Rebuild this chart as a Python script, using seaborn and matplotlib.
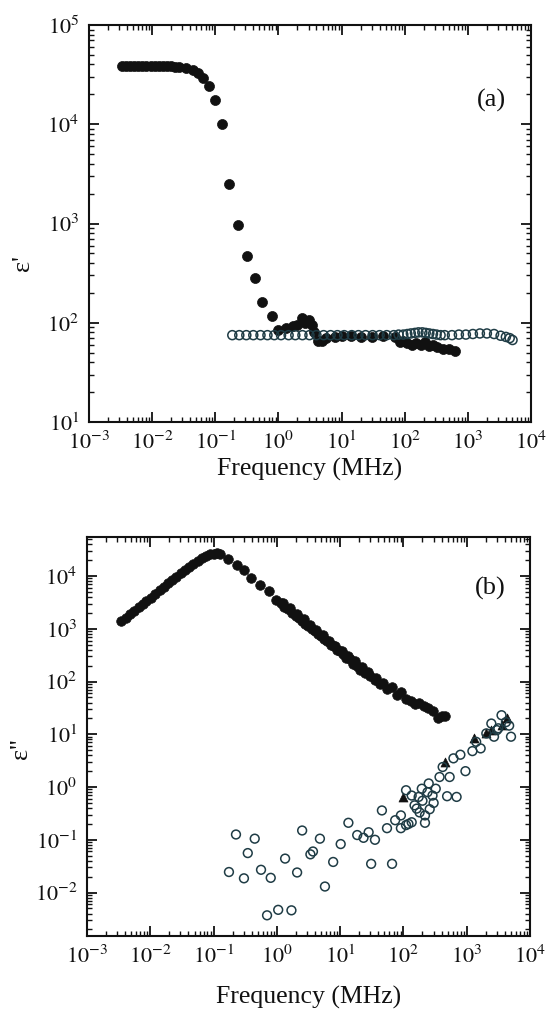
import numpy as np
import pandas as pd
import matplotlib
matplotlib.use("Agg")
import matplotlib.pyplot as plt
import matplotlib.ticker as mticker
import seaborn as sns

# ---------------- data (a) : real permittivity ----------------
a_filled_f = [0.00331, 0.00385, 0.00447, 0.00519, 0.00603, 0.0070, 0.00813, 0.00944,
              0.01096, 0.01274, 0.01479, 0.01718, 0.01995, 0.02317, 0.0263, 0.034,
              0.044, 0.053, 0.065, 0.079, 0.100, 0.129, 0.166, 0.227, 0.32, 0.42,
              0.55, 0.78, 0.98, 1.32, 1.7, 2.0, 2.35, 2.6, 3.0, 3.4, 3.7, 4.2, 4.9,
              5.6, 7.8, 10, 14, 20, 30, 45, 70, 85, 95, 110, 130, 150, 180, 210,
              240, 280, 330, 400, 500, 620]
a_filled_e = [39000, 39000, 39000, 39000, 39000, 39000, 39000, 39000,
              39000, 39000, 39000, 39000, 38500, 38000, 37500, 36500,
              35000, 32500, 29500, 24500, 17600, 10000, 2500, 955, 475, 282,
              162, 118, 85, 89, 92, 95, 112, 100, 107, 95, 80, 65, 66,
              70, 72, 74, 73, 72, 72, 73, 72, 64, 66, 62, 60, 62, 60, 64,
              58, 60, 57, 55, 54, 52]

a_open_f = [0.186, 0.24, 0.31, 0.40, 0.52, 0.67, 0.86, 1.1, 1.45, 1.85, 2.4, 3.1,
            4.0, 5.2, 6.7, 8.6, 11, 14.5, 18.5, 24, 31, 40, 52, 67, 80, 95, 110,
            125, 145, 165, 190, 215, 245, 280, 320, 370, 430, 560, 720, 930,
            1200, 1550, 2000, 2600, 3300, 4000, 4600, 5100]
a_open_e = [75, 75, 75, 75, 75, 75, 75, 75, 75, 75, 75, 75,
            75, 75, 75, 75, 75, 75, 75, 75, 75, 75, 75, 75, 76, 76, 77,
            78, 79, 80, 80, 79, 78, 77, 76, 75, 75, 75, 76, 76,
            77, 78, 78, 77, 74, 72, 70, 67]

# ---------------- data (b) : imaginary permittivity ----------------
b_filled_f = [0.00347, 0.00407, 0.00479, 0.00562, 0.0066, 0.00759, 0.00871, 0.01023,
              0.0120, 0.01413, 0.01622, 0.01905, 0.02239, 0.0257, 0.0302, 0.0355,
              0.0407, 0.0479, 0.0562, 0.0646, 0.0759, 0.0871, 0.100, 0.112, 0.126,
              0.170, 0.234, 0.302, 0.389, 0.537, 0.741, 0.955, 1.15, 1.25, 1.32,
              1.51, 1.62, 1.74, 2.0, 2.1, 2.24, 2.51, 2.65, 2.82, 3.16, 3.35, 3.55,
              3.98, 4.2, 4.47, 5.01, 5.3, 5.62, 6.31, 6.7, 7.08, 7.94, 8.4, 8.91,
              10.0, 10.6, 11.2, 12.6, 13.3, 14.1, 15.8, 17, 18.2, 20.9, 22, 25.1,
              28, 29.5, 35.5, 37, 42.7, 48, 55.0, 65, 79.4, 90, 110, 132, 151,
              178, 209, 245, 288, 347, 407, 447]
b_filled_e = [1380, 1620, 1905, 2190, 2570, 2950, 3310, 3890,
              4570, 5370, 6170, 7240, 8510, 9550, 11200, 13200,
              14800, 17000, 19500, 21900, 24000, 25700, 26600, 26900, 26300,
              21400, 16200, 12900, 9120, 6760, 5130, 3550, 3020, 3100, 2630,
              2340, 2450, 2000, 1780, 1950, 1580, 1380, 1550, 1260, 1120, 1200, 977,
              891, 930, 794, 724, 760, 631, 589, 600, 501, 479, 470, 398,
              372, 385, 331, 275, 310, 263, 214, 240, 200, 166, 185, 145,
              150, 126, 105, 118, 91, 95, 72, 78, 55, 62, 46, 42, 38,
              40, 34, 32, 28, 20, 22, 22]

b_open_f = [0.175, 0.226, 0.302, 0.347, 0.447, 0.562, 0.80, 0.70, 1.05, 1.35, 1.70,
            2.09, 2.51, 3.39, 3.72, 4.79, 5.75, 7.76, 10.2, 13.5, 18.6, 23.4, 28.2,
            35.5, 30.9, 45.7, 55.0, 66.1, 74.1, 91.2, 91.2, 110, 110, 135, 135,
            162, 174, 195, 219, 219, 251, 288, 324, 372, 417, 490, 537, 617, 692,
            794, 955, 1230, 1660, 1410, 2040, 2450, 3550, 4170, 4680, 5010, 3160,
            150, 200, 240, 300, 120, 180, 260, 3000, 2700]
b_open_e = [0.0245, 0.126, 0.0186, 0.056, 0.105, 0.027, 0.019, 0.0037, 0.0047, 0.044, 0.0046,
            0.024, 0.15, 0.053, 0.060, 0.105, 0.013, 0.038, 0.083, 0.21, 0.123, 0.109, 0.139,
            0.10, 0.035, 0.36, 0.166, 0.035, 0.235, 0.29, 0.166, 0.87, 0.19, 0.215, 0.69,
            0.39, 0.65, 0.93, 0.29, 0.21, 1.17, 0.69, 0.93, 1.55, 2.4, 0.67, 1.55, 3.5, 0.65,
            4.1, 2.0, 4.8, 5.4, 7.2, 10.4, 16, 23, 17, 14.6, 9.0, 13,
            0.45, 0.55, 0.8, 0.5, 0.2, 0.33, 0.38, 12, 9]

b_tri_f = [98, 447, 1290, 2040, 2450, 3550, 4270]
b_tri_e = [0.66, 3.0, 8.4, 10.5, 11.9, 15, 20]

x_ticks = [1e-3, 1e-2, 1e-1, 1e0, 1e1, 1e2, 1e3, 1e4]
x_ticklabels = ["$10^{-3}$", "$10^{-2}$", "$10^{-1}$", "$10^{0}$", "$10^{1}$",
                "$10^{2}$", "$10^{3}$", "$10^{4}$"]
a_yticks = [1e1, 1e2, 1e3, 1e4, 1e5]
a_yticklabels = ["$10^{1}$", "$10^{2}$", "$10^{3}$", "$10^{4}$", "$10^{5}$"]
b_yticks = [1e-2, 1e-1, 1e0, 1e1, 1e2, 1e3, 1e4]
b_yticklabels = ["$10^{-2}$", "$10^{-1}$", "$10^{0}$", "$10^{1}$", "$10^{2}$",
                 "$10^{3}$", "$10^{4}$"]

# ---------------- style ----------------
sns.set_style("ticks")
plt.rcParams["font.family"] = ["Liberation Serif", "DejaVu Serif"]
plt.rcParams["mathtext.fontset"] = "stix"
plt.rcParams["axes.linewidth"] = 1.5

INK = "#111111"
OPEN = "#1f3c45"

fig = plt.figure(figsize=(5.48, 10.09), dpi=100)
ax1 = fig.add_axes([89 / 548, 1 - 422 / 1009, (531 - 89) / 548, 397 / 1009])
ax2 = fig.add_axes([87 / 548, 1 - 936 / 1009, (530 - 87) / 548, 399 / 1009])

dfa_f = pd.DataFrame({"f": a_filled_f, "e": a_filled_e})
dfa_o = pd.DataFrame({"f": a_open_f, "e": a_open_e})
dfb_f = pd.DataFrame({"f": b_filled_f, "e": b_filled_e})
dfb_o = pd.DataFrame({"f": b_open_f, "e": b_open_e})
dfb_t = pd.DataFrame({"f": b_tri_f, "e": b_tri_e})

sns.scatterplot(data=dfa_o, x="f", y="e", ax=ax1, marker="o", s=42,
                facecolor="none", edgecolor=OPEN, linewidth=1.1, zorder=3)
sns.scatterplot(data=dfa_f, x="f", y="e", ax=ax1, marker="o", s=52,
                color=INK, edgecolor=INK, linewidth=0.5, zorder=2)

sns.scatterplot(data=dfb_f, x="f", y="e", ax=ax2, marker="o", s=48,
                color=INK, edgecolor=INK, linewidth=0.5, zorder=2)
sns.scatterplot(data=dfb_t, x="f", y="e", ax=ax2, marker="^", s=42,
                color=INK, edgecolor=INK, linewidth=0.5, zorder=2)
sns.scatterplot(data=dfb_o, x="f", y="e", ax=ax2, marker="o", s=40,
                facecolor="none", edgecolor=OPEN, linewidth=1.1, zorder=3)

for ax, ylim, yt, ytl in [(ax1, (1e1, 1e5), a_yticks, a_yticklabels),
                          (ax2, (1.5e-3, 5.5e4), b_yticks, b_yticklabels)]:
    ax.set_xscale("log")
    ax.set_yscale("log")
    ax.set_xlim(1e-3, 1e4)
    ax.set_ylim(*ylim)
    ax.set_xticks(x_ticks)
    ax.set_xticklabels(x_ticklabels)
    ax.set_yticks(yt)
    ax.set_yticklabels(ytl)
    ax.xaxis.set_minor_locator(mticker.LogLocator(base=10, subs=np.arange(2, 10), numticks=100))
    ax.yaxis.set_minor_locator(mticker.LogLocator(base=10, subs=np.arange(2, 10), numticks=100))
    ax.xaxis.set_minor_formatter(mticker.NullFormatter())
    ax.yaxis.set_minor_formatter(mticker.NullFormatter())
    ax.tick_params(which="both", direction="in", top=True, right=True,
                   colors=INK, labelcolor=INK)
    ax.tick_params(which="major", length=7, width=1.3, labelsize=16, pad=7)
    ax.tick_params(which="minor", length=3.5, width=1.0)
    for sp in ax.spines.values():
        sp.set_color(INK)
        sp.set_linewidth(1.5)
    ax.set_xlabel("Frequency (MHz)", fontsize=18.5, color=INK, labelpad=3)

ax1.set_ylabel("ε'", fontsize=19, color=INK)
ax1.yaxis.set_label_coords(-0.125, 0.40)
ax2.set_ylabel("ε''", fontsize=19, color=INK)
ax2.yaxis.set_label_coords(-0.125, 0.47)
ax2.xaxis.labelpad = 13

ax1.text(0.91, 0.81, "(a)", transform=ax1.transAxes, fontsize=19,
         ha="center", va="center", color=INK)
ax2.text(0.91, 0.87, "(b)", transform=ax2.transAxes, fontsize=19,
         ha="center", va="center", color=INK)

fig.savefig("out.png", dpi=100, facecolor="white")
